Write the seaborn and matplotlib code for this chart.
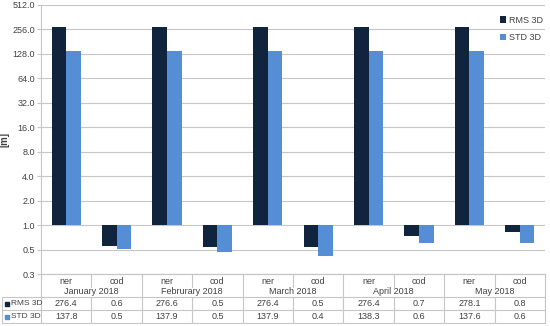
import numpy as np
import pandas as pd
import matplotlib
matplotlib.use("Agg")
import matplotlib.pyplot as plt
import seaborn as sns

# ---------------- data ----------------
months = ["January 2018", "Februrary 2018", "March 2018", "April 2018", "May 2018"]
solutions = ["ner", "cod"]
series = ["RMS 3D", "STD 3D"]
rms_3d = [276.4, 0.56, 276.6, 0.54, 276.4, 0.53, 276.4, 0.74, 278.1, 0.83]
std_3d = [137.8, 0.51, 137.9, 0.46, 137.9, 0.42, 138.3, 0.60, 137.6, 0.61]
tick_powers = list(range(-2, 10))
tick_labels = ["0.3", "0.5", "1.0", "2.0", "4.0", "8.0", "16.0", "32.0",
               "64.0", "128.0", "256.0", "512.0"]
colors = ["#10243E", "#558ED5"]

cats = [m + "|" + s for m in months for s in solutions]
df = pd.DataFrame({
    "cat": cats * 2,
    "series": [series[0]] * len(cats) + [series[1]] * len(cats),
    "value": rms_3d + std_3d,
})
# Excel-style log2 axis crossing at 1.0: plot log2 of the values
df["log2"] = np.log2(df["value"])

sns.set_style("white")
plt.rcParams["font.family"] = ["Liberation Sans", "DejaVu Sans"]
txt_color = "#404040"
grid_color = "#c6c6c6"

fig = plt.figure(figsize=(5.5, 3.26), dpi=100)
ax = fig.add_axes([41 / 550, 1 - 274 / 326, 504 / 550, 269 / 326])

sns.barplot(data=df, x="cat", y="log2", hue="series", order=cats,
            palette=colors, saturation=1, width=0.58, linewidth=0, ax=ax)

ax.set_ylim(-2, 9)
ax.set_xlim(-0.5, len(cats) - 0.5)
ax.set_yticks(tick_powers)
ax.set_yticklabels(tick_labels)
ax.tick_params(axis="y", left=True, length=3, width=0.8, color=grid_color,
               pad=1.5, labelsize=6.5, labelcolor=txt_color)
ax.tick_params(axis="x", bottom=False, labelbottom=False)
ax.yaxis.grid(True, color=grid_color, lw=0.8)
ax.set_axisbelow(True)
for sp in ["top", "right"]:
    ax.spines[sp].set_visible(False)
for sp in ["left", "bottom"]:
    ax.spines[sp].set_color(grid_color)
    ax.spines[sp].set_linewidth(0.8)
ax.set_xlabel("")
ax.set_ylabel("[m]", fontsize=7, fontweight="bold", color=txt_color)
ax.yaxis.set_label_coords(-31 / 504, 0.5)

sns.move_legend(ax, "upper right", bbox_to_anchor=(1.012, 0.99), frameon=False,
                title=None, fontsize=6.5, handlelength=0.7, handleheight=0.7,
                labelspacing=0.95, handletextpad=0.3, labelcolor=txt_color)

# ---------------- data table ----------------
tax = fig.add_axes([2 / 550, 1 - 323 / 326, 543 / 550, 49 / 326])
xleft = -0.5 - 39 / 50.4
xright = len(cats) - 0.5
tax.set_xlim(xleft, xright)
tax.set_ylim(49, 0)
tax.axis("off")
lk = dict(color=grid_color, lw=0.8, clip_on=False)

tax.plot([-0.5, xright], [0, 0], **lk)
for yy in [23, 36, 49]:
    tax.plot([xleft, xright], [yy, yy], **lk)
tax.plot([xleft, xleft], [23, 49], **lk)
for i in range(len(months) + 1):
    xb = -0.5 + 2 * i
    tax.plot([xb, xb], [0, 49], **lk)
for i in range(len(months)):
    xd = 0.5 + 2 * i
    tax.plot([xd, xd], [0, 13], **lk)
    tax.plot([xd, xd], [23, 49], **lk)

fs = 6.5
for i, c in enumerate(cats):
    tax.text(i, 7, c.split("|")[1], ha="center", va="center", fontsize=fs, color=txt_color)
    tax.text(i, 29.5, f"{rms_3d[i]:.1f}", ha="center", va="center", fontsize=fs, color=txt_color)
    tax.text(i, 42.5, f"{std_3d[i]:.1f}", ha="center", va="center", fontsize=fs, color=txt_color)
for j, m in enumerate(months):
    tax.text(2 * j + 0.5, 18, m, ha="center", va="center", fontsize=fs, color=txt_color)

for yy, name, col in zip([29.5, 42.5], series, colors):
    tax.plot([xleft + 0.1], [yy], marker="s", ms=3.5, color=col, clip_on=False)
    tax.text(xleft + 0.17, yy, name, ha="left", va="center", fontsize=6, color=txt_color)

fig.savefig("out.png", dpi=100)
